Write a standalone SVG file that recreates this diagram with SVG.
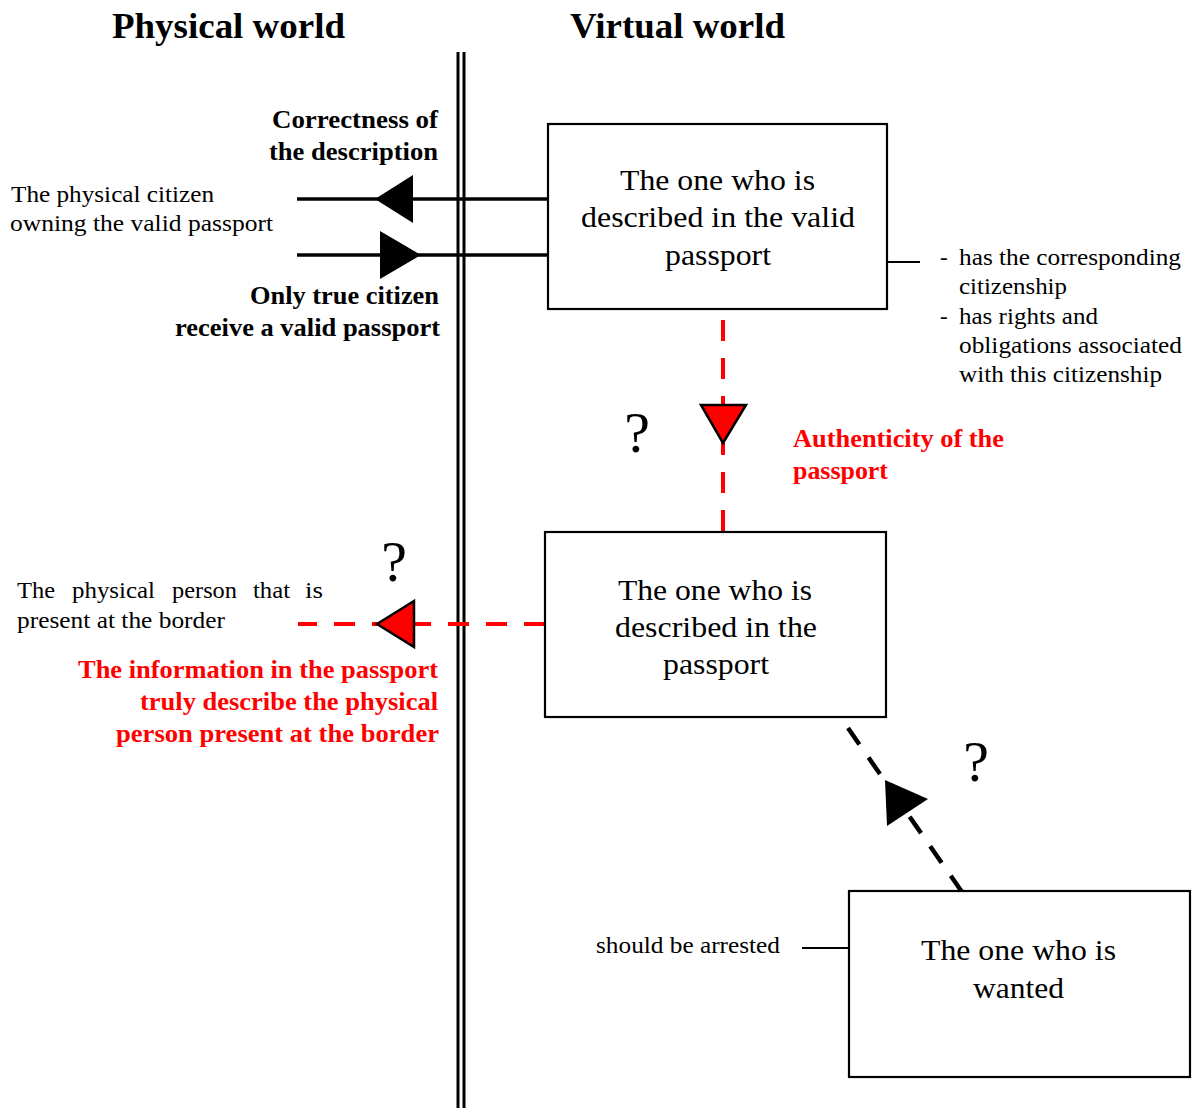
<svg xmlns="http://www.w3.org/2000/svg" width="1192" height="1108" viewBox="0 0 1192 1108">
  <style>
    text { font-family: "Liberation Serif", "Times New Roman", serif; fill: #000; }
    .title { font-size: 36px; font-weight: bold; }
    .lbl { font-size: 26px; font-weight: bold; }
    .red { fill: #ff0000; }
    .note { font-size: 23px; }
    .box-text { font-size: 30px; }
    .q { font-size: 58px; text-anchor: middle; }
    .box { fill: #fff; stroke: #000; stroke-width: 2.2; }
    .solid { stroke: #000; stroke-width: 3.5; fill: none; }
    .thin { stroke: #000; stroke-width: 2; fill: none; }
    .dash-red { stroke: #ff0000; stroke-width: 4; stroke-dasharray: 21 17; fill: none; }
    .dash-black { stroke: #000; stroke-width: 4.5; stroke-dasharray: 20 16; fill: none; }
  </style>

  <!-- border between the two worlds -->
  <g id="divider">
    <line x1="458" y1="52" x2="458" y2="1108" stroke="#000" stroke-width="3"/>
    <line x1="464" y1="52" x2="464" y2="1108" stroke="#000" stroke-width="3"/>
  </g>

  <text class="title" x="112" y="38" textLength="233" lengthAdjust="spacingAndGlyphs">Physical world</text>
  <text class="title" x="570" y="38" textLength="215" lengthAdjust="spacingAndGlyphs">Virtual world</text>

  <!-- connectors -->
  <g id="connectors">
    <line class="solid" x1="297" y1="199" x2="548" y2="199"/>
    <polygon points="375,199 413,175 413,223" fill="#000"/>
    <line class="solid" x1="297" y1="255" x2="548" y2="255"/>
    <polygon points="421,255 380,231 380,279" fill="#000"/>

    <line class="thin" x1="888" y1="262" x2="920" y2="262"/>
    <line class="thin" x1="802" y1="948" x2="849" y2="948"/>

    <line class="dash-red" x1="723" y1="320" x2="723" y2="532"/>
    <polygon points="701,405 746,405 723,443" fill="#ff0000" stroke="#000" stroke-width="2.5"/>

    <line class="dash-red" x1="545" y1="624" x2="298" y2="624"/>
    <polygon points="377,624 414,601 414,647" fill="#ff0000" stroke="#000" stroke-width="2.5"/>

    <line class="dash-black" x1="848" y1="728" x2="962" y2="892"/>
    <polygon points="885,780 928,799 887,826" fill="#000"/>
  </g>

  <!-- nodes -->
  <g id="valid-passport-holder">
    <rect class="box" x="548" y="124" width="339" height="185"/>
    <text class="box-text" x="620" y="190" textLength="195" lengthAdjust="spacingAndGlyphs">The one who is</text>
    <text class="box-text" x="581" y="227" textLength="274" lengthAdjust="spacingAndGlyphs">described in the valid</text>
    <text class="box-text" x="665" y="265" textLength="106" lengthAdjust="spacingAndGlyphs">passport</text>
  </g>

  <g id="passport-holder">
    <rect class="box" x="545" y="532" width="341" height="185"/>
    <text class="box-text" x="618" y="600" textLength="194" lengthAdjust="spacingAndGlyphs">The one who is</text>
    <text class="box-text" x="615" y="637" textLength="202" lengthAdjust="spacingAndGlyphs">described in the</text>
    <text class="box-text" x="663" y="674" textLength="106" lengthAdjust="spacingAndGlyphs">passport</text>
  </g>

  <g id="wanted-person">
    <rect class="box" x="849" y="891" width="341" height="186"/>
    <text class="box-text" x="921" y="960" textLength="195" lengthAdjust="spacingAndGlyphs">The one who is</text>
    <text class="box-text" x="973" y="998" textLength="91" lengthAdjust="spacingAndGlyphs">wanted</text>
  </g>

  <!-- labels -->
  <g id="labels">
    <text class="lbl" x="272" y="128" textLength="166" lengthAdjust="spacingAndGlyphs">Correctness of</text>
    <text class="lbl" x="269" y="160" textLength="169" lengthAdjust="spacingAndGlyphs">the description</text>
    <text class="lbl" x="250" y="304" textLength="189" lengthAdjust="spacingAndGlyphs">Only true citizen</text>
    <text class="lbl" x="175" y="336" textLength="265" lengthAdjust="spacingAndGlyphs">receive a valid passport</text>

    <text class="note" x="11" y="202" textLength="203" lengthAdjust="spacingAndGlyphs">The physical citizen</text>
    <text class="note" x="10" y="231" textLength="263" lengthAdjust="spacingAndGlyphs">owning the valid passport</text>

    <text class="note" x="940" y="265">-</text>
    <text class="note" x="959" y="265" textLength="222" lengthAdjust="spacingAndGlyphs">has the corresponding</text>
    <text class="note" x="959" y="294" textLength="108" lengthAdjust="spacingAndGlyphs">citizenship</text>
    <text class="note" x="940" y="324">-</text>
    <text class="note" x="959" y="324" textLength="139" lengthAdjust="spacingAndGlyphs">has rights and</text>
    <text class="note" x="959" y="353" textLength="223" lengthAdjust="spacingAndGlyphs">obligations associated</text>
    <text class="note" x="959" y="382" textLength="203" lengthAdjust="spacingAndGlyphs">with this citizenship</text>

    <text class="lbl red" x="793" y="447" textLength="211" lengthAdjust="spacingAndGlyphs">Authenticity of the</text>
    <text class="lbl red" x="793" y="479" textLength="95" lengthAdjust="spacingAndGlyphs">passport</text>

    <!-- justified line: each word placed and sized on its own -->
    <text class="note" x="17" y="598" textLength="38" lengthAdjust="spacingAndGlyphs">The</text>
    <text class="note" x="72" y="598" textLength="83" lengthAdjust="spacingAndGlyphs">physical</text>
    <text class="note" x="172" y="598" textLength="65" lengthAdjust="spacingAndGlyphs">person</text>
    <text class="note" x="253" y="598" textLength="37" lengthAdjust="spacingAndGlyphs">that</text>
    <text class="note" x="305" y="598" textLength="18" lengthAdjust="spacingAndGlyphs">is</text>
    <text class="note" x="17" y="628" textLength="208" lengthAdjust="spacingAndGlyphs">present at the border</text>

    <text class="lbl red" x="78" y="678" textLength="360" lengthAdjust="spacingAndGlyphs">The information in the passport</text>
    <text class="lbl red" x="140" y="710" textLength="298" lengthAdjust="spacingAndGlyphs">truly describe the physical</text>
    <text class="lbl red" x="116" y="742" textLength="323" lengthAdjust="spacingAndGlyphs">person present at the border</text>

    <text class="note" x="596" y="953" textLength="184" lengthAdjust="spacingAndGlyphs">should be arrested</text>

    <text class="q" x="637" y="452">?</text>
    <text class="q" x="394" y="581">?</text>
    <text class="q" x="976" y="781">?</text>
  </g>
</svg>
